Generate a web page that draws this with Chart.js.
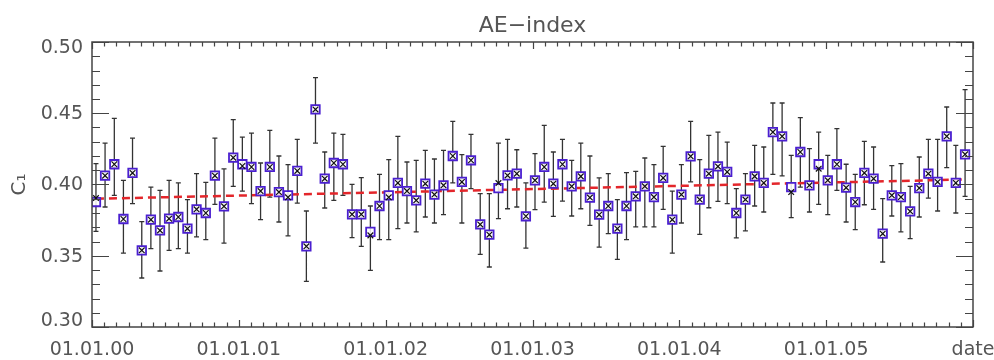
<!DOCTYPE html>
<html><head><meta charset="utf-8">
<script src="https://cdn.jsdelivr.net/npm/chart.js@4.4.1/dist/chart.umd.min.js"></script>
<style>html,body{margin:0;padding:0;background:#fff}#wrap{width:994px;height:360px}</style>
</head><body><div id="wrap"><canvas id="c" width="994" height="360"></canvas></div>
<script>
const chartTitle = 'AE\u2212index';
const yAxisTitle = 'C\u2081';
const yTickValues = [0.30, 0.35, 0.40, 0.45, 0.50];
const xTickLabels = ['01.01.00','01.01.01','01.01.02','01.01.03','01.01.04','01.01.05','date'];

// sample times in years since 01.01.2000
const sampleTimes = [
0.027,0.089,0.152,0.214,0.276,0.339,0.401,0.463,0.525,0.588,
0.650,0.712,0.775,0.837,0.899,0.962,1.024,1.086,1.148,1.211,
1.273,1.335,1.398,1.460,1.522,1.585,1.647,1.709,1.771,1.834,
1.896,1.958,2.021,2.083,2.145,2.208,2.270,2.332,2.394,2.457,
2.519,2.581,2.644,2.706,2.768,2.830,2.893,2.955,3.017,3.080,
3.142,3.204,3.267,3.329,3.391,3.454,3.516,3.578,3.640,3.703,
3.765,3.827,3.890,3.952,4.014,4.077,4.139,4.201,4.263,4.326,
4.388,4.450,4.513,4.575,4.637,4.700,4.762,4.824,4.886,4.949,
5.011,5.073,5.136,5.198,5.260,5.323,5.385,5.447,5.509,5.572,
5.634,5.696,5.759,5.821,5.883,5.946];

const c1 = [
0.3877,0.4062,0.4142,0.3758,0.4081,0.3538,0.3753,0.3678,0.3760,0.3772,
0.3690,0.3826,0.3800,0.4062,0.3847,0.4188,0.4142,0.4123,0.3954,0.4123,
0.3947,0.3924,0.4095,0.3566,0.4527,0.4041,0.4151,0.4142,0.3791,0.3791,
0.3667,0.3849,0.3924,0.4011,0.3954,0.3889,0.4006,0.3929,0.3994,0.4200,
0.4018,0.4170,0.3720,0.3648,0.3975,0.4064,0.4076,0.3777,0.4029,0.4123,
0.4006,0.4142,0.3987,0.4057,0.3908,0.3788,0.3849,0.3690,0.3849,0.3917,
0.3987,0.3912,0.4046,0.3753,0.3929,0.4198,0.3894,0.4076,0.4127,0.4088,
0.3800,0.3894,0.4057,0.4011,0.4368,0.4338,0.3982,0.4228,0.3994,0.4142,
0.4029,0.4142,0.3978,0.3877,0.4081,0.4041,0.3655,0.3924,0.3912,0.3812,
0.3975,0.4076,0.4018,0.4338,0.4011,0.4212];

const c1Low = [
0.3671,0.3842,0.3924,0.3519,0.3866,0.3344,0.3550,0.3393,0.3538,0.3550,
0.3519,0.3632,0.3613,0.3861,0.3589,0.3987,0.3954,0.3866,0.3753,0.3912,
0.3737,0.3639,0.3870,0.3320,0.4291,0.3835,0.3889,0.3924,0.3627,0.3566,
0.3398,0.3613,0.3613,0.3690,0.3730,0.3667,0.3772,0.3730,0.3788,0.4011,
0.3730,0.3971,0.3510,0.3421,0.3760,0.3830,0.3842,0.3554,0.3823,0.3877,
0.3777,0.3884,0.3779,0.3830,0.3713,0.3561,0.3655,0.3475,0.3613,0.3702,
0.3702,0.3702,0.3826,0.3519,0.3730,0.4018,0.3650,0.3837,0.3882,0.3866,
0.3625,0.3674,0.3849,0.3807,0.4071,0.4060,0.3767,0.3982,0.3807,0.3861,
0.3788,0.3959,0.3737,0.3683,0.3858,0.3826,0.3456,0.3779,0.3667,0.3620,
0.3772,0.3905,0.3814,0.4118,0.3800,0.3917];

const c1High = [
0.4146,0.4291,0.4464,0.4029,0.4326,0.3739,0.3982,0.3959,0.4029,0.4011,
0.3894,0.4076,0.4015,0.4326,0.4109,0.4455,0.4333,0.4361,0.4151,0.4380,
0.4200,0.4139,0.4317,0.3814,0.4750,0.4228,0.4361,0.4352,0.4001,0.4048,
0.3849,0.4071,0.4174,0.4338,0.4158,0.4170,0.4240,0.4179,0.4240,0.4443,
0.4209,0.4352,0.3936,0.3936,0.4291,0.4317,0.4244,0.4011,0.4216,0.4415,
0.4228,0.4317,0.4170,0.4291,0.4200,0.4046,0.4076,0.3894,0.4083,0.4092,
0.4186,0.4139,0.4268,0.3954,0.4139,0.4443,0.4174,0.4345,0.4368,0.4298,
0.3971,0.4076,0.4275,0.4263,0.4572,0.4572,0.4205,0.4469,0.4252,0.4368,
0.4205,0.4392,0.4142,0.4071,0.4303,0.4263,0.3901,0.4132,0.4146,0.3987,
0.4193,0.4317,0.4317,0.4544,0.4275,0.4666];

// second estimate (crosses)
const c1Alt = [
0.3905,0.4062,0.4142,0.3758,0.4081,0.3538,0.3753,0.3678,0.3760,0.3772,
0.3690,0.3826,0.3800,0.4062,0.3847,0.4188,0.4130,0.4123,0.3954,0.4123,
0.3947,0.3910,0.4095,0.3566,0.4527,0.4041,0.4151,0.4142,0.3791,0.3791,
0.3643,0.3849,0.3910,0.4011,0.3954,0.3889,0.4006,0.3929,0.3994,0.4200,
0.4018,0.4170,0.3720,0.3648,0.4010,0.4064,0.4076,0.3777,0.4029,0.4123,
0.4006,0.4142,0.3987,0.4057,0.3908,0.3788,0.3849,0.3690,0.3849,0.3917,
0.3987,0.3912,0.4046,0.3753,0.3929,0.4198,0.3894,0.4076,0.4127,0.4088,
0.3800,0.3894,0.4057,0.4011,0.4368,0.4338,0.3947,0.4228,0.3994,0.4111,
0.4029,0.4142,0.3978,0.3877,0.4081,0.4041,0.3655,0.3924,0.3912,0.3812,
0.3975,0.4076,0.4018,0.4338,0.4011,0.4212];

const trendTimes = [0.027, 5.946];
const trendValues = [0.390, 0.4035];

const FONT = "'DejaVu Sans', sans-serif";
const TEXT = '#555';
const AXIS = '#444';

const pts = (xs, ys) => xs.map((x, i) => ({x: x, y: ys[i]}));

const errorBars = {
  id: 'errorBars',
  beforeDatasetsDraw(chart) {
    const {ctx, scales: {x, y}} = chart;
    ctx.save();
    ctx.strokeStyle = '#333';
    ctx.lineWidth = 1.3;
    ctx.beginPath();
    sampleTimes.forEach((t, i) => {
      const px = x.getPixelForValue(t);
      const y1 = y.getPixelForValue(c1Low[i]);
      const y2 = y.getPixelForValue(c1High[i]);
      ctx.moveTo(px, y1); ctx.lineTo(px, y2);
      ctx.moveTo(px - 2.5, y1); ctx.lineTo(px + 2.5, y1);
      ctx.moveTo(px - 2.5, y2); ctx.lineTo(px + 2.5, y2);
    });
    ctx.stroke();
    ctx.restore();
  }
};

const frame = {
  id: 'frame',
  afterDraw(chart) {
    const {ctx, chartArea: a, scales: {x, y}} = chart;
    ctx.save();
    ctx.strokeStyle = AXIS;
    ctx.lineWidth = 1.5;
    ctx.strokeRect(a.left, a.top, a.right - a.left, a.bottom - a.top);
    ctx.lineWidth = 1.2;
    ctx.beginPath();
    for (let k = 0; k <= 20; k++) {
      const v = 0.30 + k * 0.01;
      const py = Math.round(y.getPixelForValue(v)) + 0.5;
      const len = (k % 5 === 0) ? 17 : 8;
      ctx.moveTo(a.left, py); ctx.lineTo(a.left + len, py);
      ctx.moveTo(a.right, py); ctx.lineTo(a.right - len, py);
    }
    for (let m = 0; m <= 72; m++) {
      const px = Math.round(x.getPixelForValue(m / 12)) + 0.5;
      const len = (m % 12 === 0) ? 7 : 4.5;
      ctx.moveTo(px, a.bottom); ctx.lineTo(px, a.bottom - len);
      ctx.moveTo(px, a.top); ctx.lineTo(px, a.top + len);
    }
    ctx.stroke();
    ctx.fillStyle = TEXT;
    ctx.font = "19px " + FONT;
    ctx.textAlign = 'right';
    ctx.textBaseline = 'middle';
    yTickValues.forEach(v => {
      let py = y.getPixelForValue(v) + 1;
      py = Math.max(a.top + 6, Math.min(a.bottom - 6, py));
      ctx.fillText(v.toFixed(2), a.left - 9, py);
    });
    ctx.restore();
  }
};

new Chart(document.getElementById('c'), {
  type: 'scatter',
  data: {
    datasets: [
      {
        type: 'line',
        data: pts(trendTimes, trendValues),
        borderColor: '#e3262b',
        borderWidth: 2.5,
        borderDash: [8, 5],
        pointRadius: 0,
        fill: false,
        order: 3
      },
      {
        data: pts(sampleTimes, c1),
        pointStyle: 'rect',
        pointRadius: 6,
        pointBorderWidth: 1.8,
        pointBorderColor: '#4a1fd0',
        pointBackgroundColor: 'rgba(255,255,255,0.85)',
        order: 2
      },
      {
        data: pts(sampleTimes, c1Alt),
        pointStyle: 'crossRot',
        pointRadius: 4,
        pointBorderWidth: 1.2,
        pointBorderColor: '#111',
        order: 1
      }
    ]
  },
  options: {
    responsive: false,
    animation: false,
    devicePixelRatio: 1,
    layout: {padding: {top: 0, right: 21, bottom: 0, left: 0}},
    plugins: {
      legend: {display: false},
      tooltip: {enabled: false},
      title: {
        display: true,
        text: chartTitle,
        fullSize: false,
        color: TEXT,
        font: {family: FONT, size: 22, weight: 'normal', lineHeight: 1.2},
        padding: {top: 13, bottom: 2.6}
      }
    },
    scales: {
      x: {
        type: 'linear',
        min: 0, max: 6,
        afterBuildTicks: s => { s.ticks = xTickLabels.map((_, i) => ({value: i})); },
        afterFit: s => { s.height = 33; s.paddingLeft = 0; s.paddingRight = 0; },
        ticks: {
          autoSkip: false, maxRotation: 0,
          callback: v => xTickLabels[Math.round(v)],
          color: TEXT,
          font: {family: FONT, size: 19},
          padding: 12
        },
        grid: {display: false, drawTicks: false},
        border: {display: false}
      },
      y: {
        min: 0.30, max: 0.50,
        afterFit: s => { s.width = 92; },
        ticks: {display: false},
        grid: {display: false, drawTicks: false},
        border: {display: false},
        title: {
          display: true, text: yAxisTitle, color: TEXT,
          font: {family: FONT, size: 20}, padding: {top: 8, bottom: 0}
        }
      }
    }
  },
  plugins: [errorBars, frame]
});
</script>
</body></html>
